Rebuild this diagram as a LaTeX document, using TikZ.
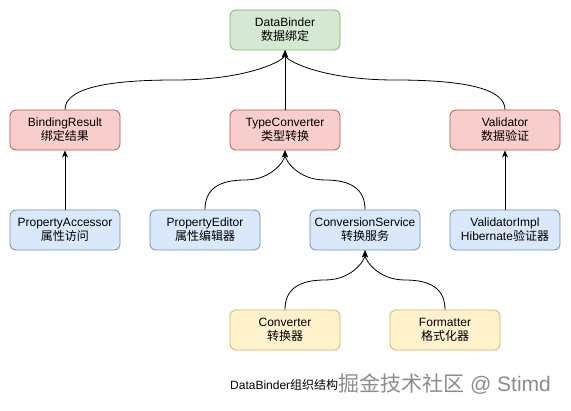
\documentclass[tikz,border=0pt]{standalone}
\usepackage{fontspec}
\setmainfont{Liberation Sans}
\newfontfamily\cjk{Noto Sans CJK SC}
\usetikzlibrary{arrows.meta}
\definecolor{gfill}{HTML}{D5E8D4}\definecolor{gline}{HTML}{82B366}
\definecolor{rfill}{HTML}{F8CECC}\definecolor{rline}{HTML}{B85450}
\definecolor{bfill}{HTML}{DAE8FC}\definecolor{bline}{HTML}{6C8EBF}
\definecolor{yfill}{HTML}{FFF2CC}\definecolor{yline}{HTML}{D6B656}
\begin{document}
\begin{tikzpicture}[x=1pt,y=-1pt,
  box/.style={draw, rounded corners=6pt, minimum width=110pt, minimum height=40pt,
    align=center, inner sep=0pt, line width=0.8pt, font=\fontsize{12}{14}\selectfont},
  gbox/.style={box, fill=gfill, draw=gline},
  rbox/.style={box, fill=rfill, draw=rline},
  bbox/.style={box, fill=bfill, draw=bline},
  ybox/.style={box, fill=yfill, draw=yline},
  conn/.style={-{Stealth[length=7pt,width=6pt,inset=2pt]}, line width=0.8pt, black}
]
\useasboundingbox (0,0) rectangle (571,411);
\fill[white] (0,0) rectangle (571,411);

\node[gbox] (db) at (285,30) {DataBinder\\{\cjk 数据绑定}};

\node[rbox] (br) at (65,130) {BindingResult\\{\cjk 绑定结果}};
\node[rbox] (tc) at (285,130) {TypeConverter\\{\cjk 类型转换}};
\node[rbox] (va) at (505,130) {Validator\\{\cjk 数据验证}};

\node[bbox] (pa) at (65,230) {PropertyAccessor\\{\cjk 属性访问}};
\node[bbox] (pe) at (205,230) {PropertyEditor\\{\cjk 属性编辑器}};
\node[bbox] (cs) at (365,230) {ConversionService\\{\cjk 转换服务}};
\node[bbox] (vi) at (505,230) {ValidatorImpl\\Hibernate{\cjk 验证器}};

\node[ybox] (cv) at (285,330) {Converter\\{\cjk 转换器}};
\node[ybox] (fm) at (445,330) {Formatter\\{\cjk 格式化器}};

% connectors
\draw[conn] (br.north) .. controls +(0,-20) and (101.7,80) .. (175,80)
  .. controls (248.3,80) and +(0,10) .. (db.south);
\draw[conn] (tc.north) -- (db.south);
\draw[conn] (va.north) .. controls +(0,-20) and (468.3,80) .. (395,80)
  .. controls (321.7,80) and +(0,10) .. (db.south);

\draw[conn] (pa.north) -- (br.south);
\draw[conn] (vi.north) -- (va.south);
\draw[conn] (pe.north) .. controls +(0,-20) and (218.3,180) .. (245,180)
  .. controls (271.7,180) and +(0,10) .. (tc.south);
\draw[conn] (cs.north) .. controls +(0,-20) and (351.7,180) .. (325,180)
  .. controls (298.3,180) and +(0,10) .. (tc.south);

\draw[conn] (cv.north) .. controls +(0,-20) and (298.3,280) .. (325,280)
  .. controls (351.7,280) and +(0,10) .. (cs.south);
\draw[conn] (fm.north) .. controls +(0,-20) and (431.7,280) .. (405,280)
  .. controls (378.3,280) and +(0,10) .. (cs.south);

% caption and watermark
\node[anchor=west, inner sep=0pt, font=\fontsize{12}{14}\selectfont] (cap) at (230,385) {DataBinder{\cjk 组织结构}};
\node[anchor=west, inner sep=0pt, text=black!45, font=\fontsize{21}{24}\selectfont] (wm) at (338,384) {{\cjk 掘金技术社区} @ Stimd};
\end{tikzpicture}
\end{document}
